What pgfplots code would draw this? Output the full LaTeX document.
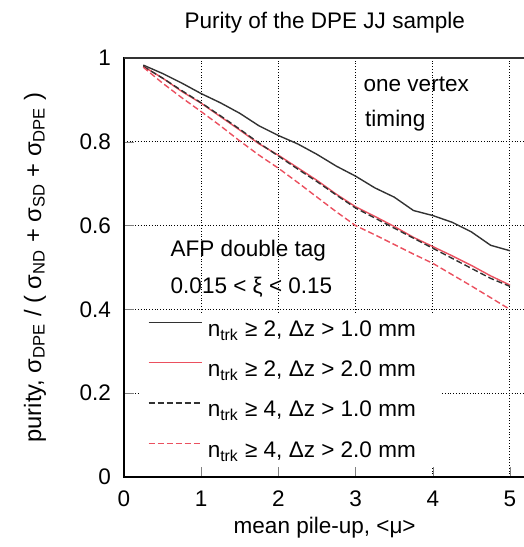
\documentclass[border=0pt]{standalone}
\usepackage{pgfplots}
\pgfplotsset{compat=1.18}
\usepackage{fontspec}
\setmainfont{Liberation Sans}
\definecolor{rline}{RGB}{235,80,95}
\definecolor{kline}{RGB}{50,50,50}
\newcommand{\lbl}{\fontsize{11.3}{13}\selectfont}

\begin{document}
\begin{tikzpicture}
\begin{axis}[
  name=ax, at={(0,0)}, anchor=south west,
  scale only axis, width=200.7bp, height=209.5bp,
  xmin=0, xmax=5.2, ymin=0, ymax=1,
  xtick={0,1,2,3,4,5}, ytick={0,0.2,0.4,0.6,0.8,1},
  tick pos=left, tick align=inside, major tick length=5bp,
  grid=major, grid style={densely dotted, black, line width=0.5bp},
  axis line style={line width=0.8bp},
  /pgf/number format/assume math mode=true,
  tick label style={font=\lbl},
  xticklabel style={yshift=-3.5bp},
  yticklabel style={xshift=-3bp},
  title={Purity of the DPE JJ sample},
  every axis title shift=0pt,
  title style={font=\lbl, at={(0.5,1)}, anchor=base, yshift=14.5bp},
  xlabel={mean pile-up, <μ>},
  every axis x label/.style={font=\lbl, at={(rel axis cs:0.5,0)}, anchor=base, yshift=-28bp},
  ylabel={purity, σ\textsubscript{DPE} / ( σ\textsubscript{ND} + σ\textsubscript{SD} + σ\textsubscript{DPE} )},
  every axis y label/.style={font=\fontsize{11.9}{14}\selectfont, at={(rel axis cs:0,0.5)}, xshift=-44.5bp, rotate=90, anchor=center},
  legend cell align=left,
  legend image code/.code={\draw[#1] (0bp,3.8bp) -- (26.5bp,3.8bp);},
  legend style={font=\lbl, at={(axis cs:0.2,0.39)}, anchor=north west, draw=none, fill=white,
    inner xsep=4bp, inner ysep=0.5bp, row sep=5.2bp,
    nodes={inner sep=2.8bp}},
]
% n_trk >= 2, dz > 1.0 mm
\addplot[kline, line width=0.7bp] coordinates {
  (0.25,0.983) (0.5,0.963) (0.75,0.940) (1.0,0.915) (1.25,0.893) (1.5,0.868)
  (1.75,0.838) (2.0,0.815) (2.25,0.795) (2.5,0.770) (2.75,0.742) (3.0,0.718)
  (3.25,0.690) (3.5,0.668) (3.75,0.636) (4.0,0.624) (4.25,0.608) (4.5,0.585)
  (4.75,0.553) (5.0,0.540)};
\addlegendentry{n\textsubscript{trk} ≥ 2, Δz > 1.0 mm\hspace*{6bp}}
% n_trk >= 2, dz > 2.0 mm
\addplot[rline, line width=0.7bp] coordinates {
  (0.25,0.980) (0.5,0.952) (0.75,0.920) (1.0,0.892) (1.25,0.860) (1.5,0.828)
  (1.75,0.795) (2.0,0.768) (2.25,0.738) (2.5,0.708) (2.75,0.675) (3.0,0.645)
  (3.25,0.622) (3.5,0.598) (3.75,0.572) (4.0,0.550) (4.25,0.528) (4.5,0.505)
  (4.75,0.480) (5.0,0.458)};
\addlegendentry{n\textsubscript{trk} ≥ 2, Δz > 2.0 mm}
% n_trk >= 4, dz > 1.0 mm
\addplot[kline, line width=0.7bp, dash pattern=on 3bp off 1.5bp] coordinates {
  (0.25,0.980) (0.5,0.952) (0.75,0.922) (1.0,0.893) (1.25,0.862) (1.5,0.830)
  (1.75,0.797) (2.0,0.766) (2.25,0.735) (2.5,0.705) (2.75,0.673) (3.0,0.642)
  (3.25,0.618) (3.5,0.594) (3.75,0.570) (4.0,0.546) (4.25,0.522) (4.5,0.498)
  (4.75,0.474) (5.0,0.455)};
\addlegendentry{n\textsubscript{trk} ≥ 4, Δz > 1.0 mm}
% n_trk >= 4, dz > 2.0 mm
\addplot[rline, line width=0.7bp, dash pattern=on 3bp off 1.5bp] coordinates {
  (0.25,0.978) (0.5,0.940) (0.75,0.905) (1.0,0.872) (1.25,0.838) (1.5,0.802)
  (1.75,0.768) (2.0,0.737) (2.25,0.703) (2.5,0.668) (2.75,0.633) (3.0,0.600)
  (3.25,0.578) (3.5,0.555) (3.75,0.532) (4.0,0.510) (4.25,0.483) (4.5,0.456)
  (4.75,0.428) (5.0,0.400)};
\addlegendentry{n\textsubscript{trk} ≥ 4, Δz > 2.0 mm}

\node[font=\lbl, anchor=base west, inner sep=0pt] at (axis cs:3.1,0.92) {one vertex};
\node[font=\lbl, anchor=base west, inner sep=0pt] at (axis cs:3.12,0.836) {timing};
\node[font=\lbl, anchor=base west, inner sep=0pt] at (axis cs:0.6,0.526) {AFP double tag};
\node[font=\lbl, anchor=base west, inner sep=0pt] at (axis cs:0.6,0.439) {0.015 < ξ < 0.15};
\end{axis}
% top frame edge
\draw[line width=1bp, black!80] (ax.north west) -- (ax.north east);
\pgfresetboundingbox
\path (-62bp,-35bp) rectangle (200bp,238.5bp);
\end{tikzpicture}
\end{document}
